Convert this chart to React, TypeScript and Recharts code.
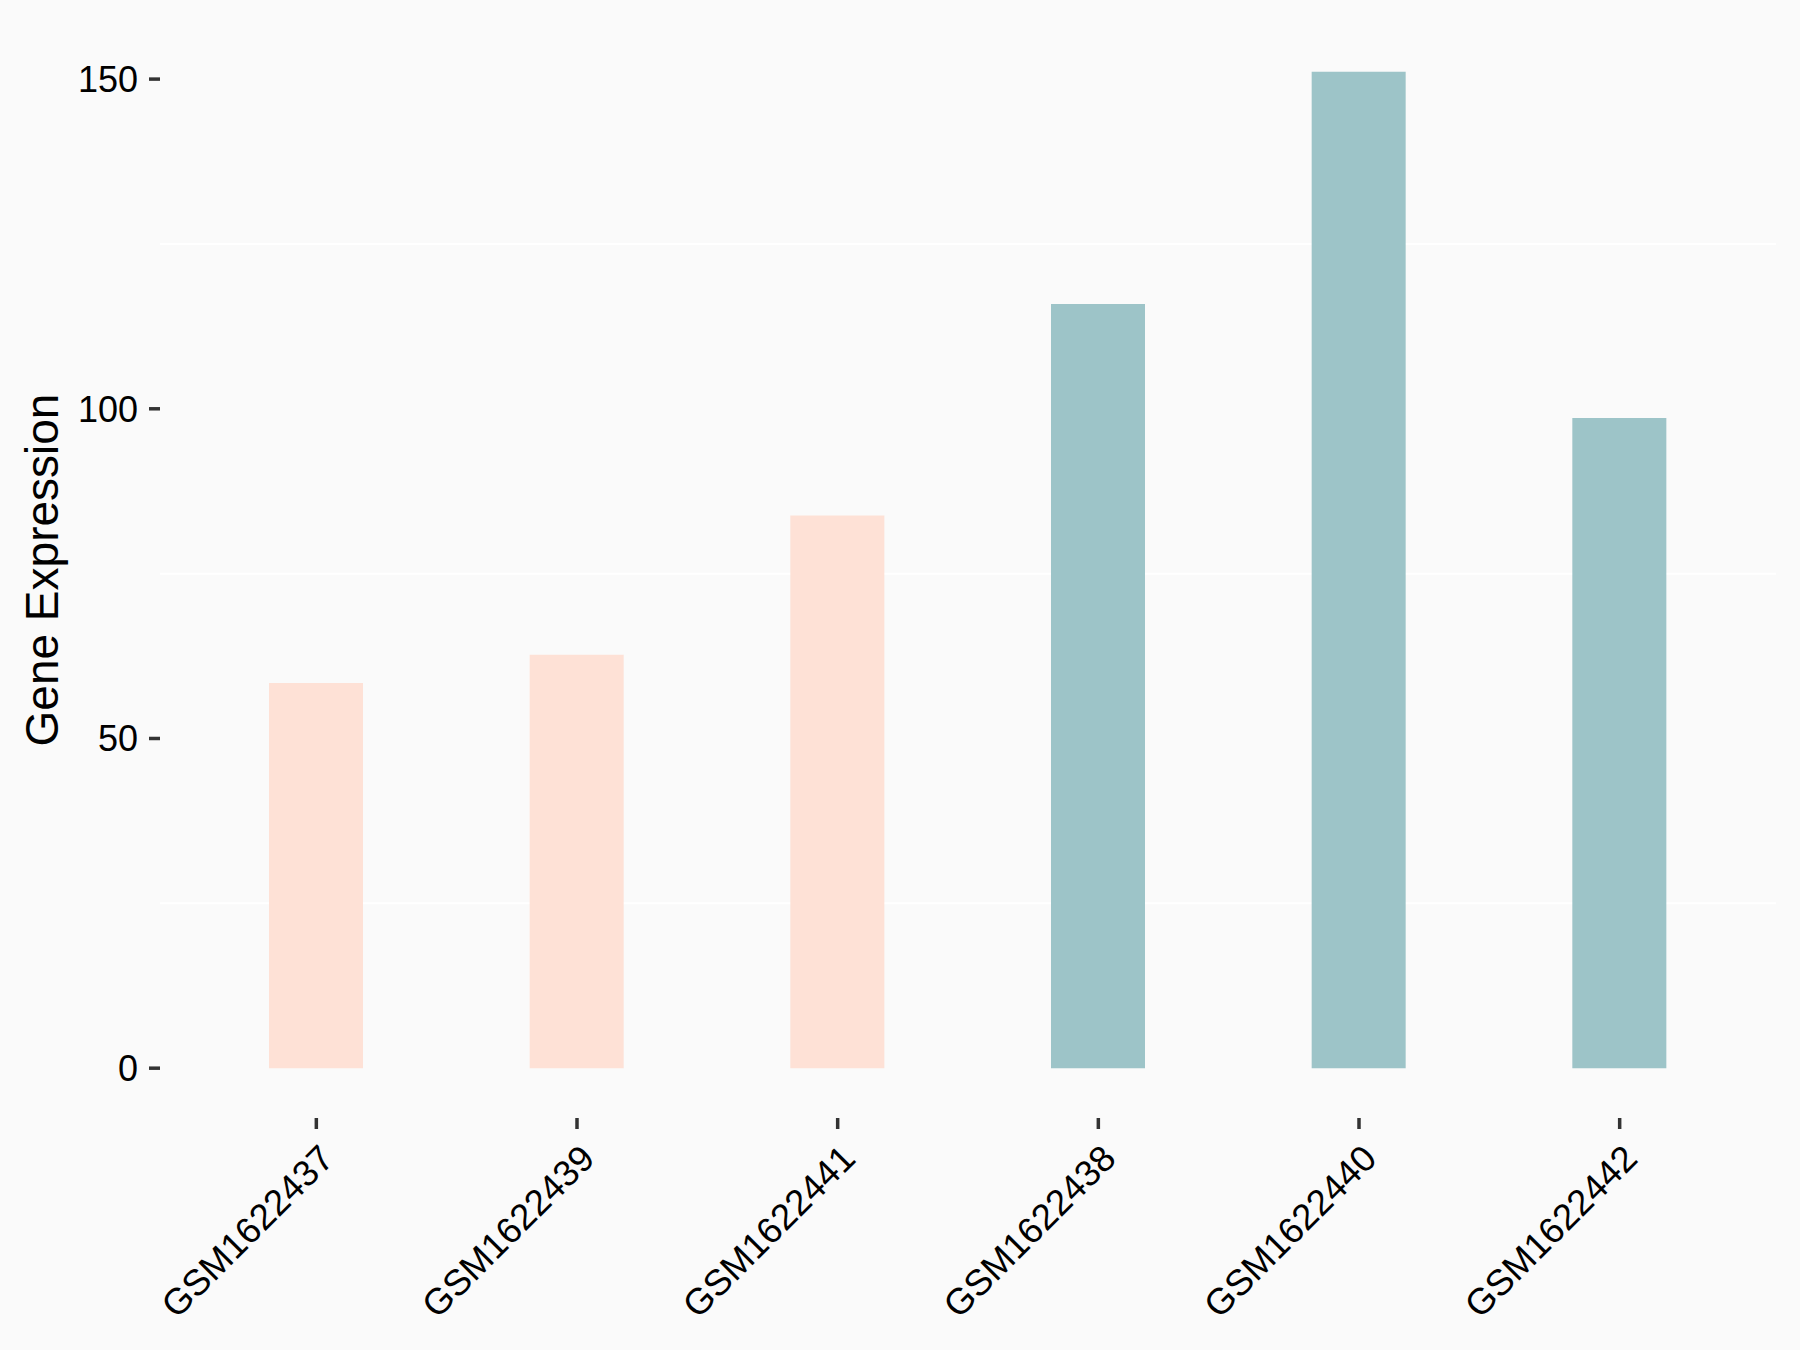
import { BarChart, Bar, Cell, XAxis, YAxis, CartesianGrid } from 'recharts'

const samples = ['GSM1622437', 'GSM1622439', 'GSM1622441', 'GSM1622438', 'GSM1622440', 'GSM1622442']
const expression = [58.4, 62.7, 83.8, 115.9, 151.1, 98.6]
const groups = ['A', 'A', 'A', 'B', 'B', 'B']
const yTicks = [0, 50, 100, 150]
const minorGrid = [25, 75, 125]

const groupColors: Record<string, string> = { A: '#FEE1D6', B: '#9DC4C8' }

const data = samples.map((s, i) => ({ sample: s, value: expression[i], group: groups[i] }))

const FONT = '"Liberation Sans", Arial, sans-serif'

function XTick({ x, y, payload }: any) {
  return (
    <g transform={`translate(${x + 1},${y})`}>
      <text
        x={0}
        y={0}
        dy="0.72em"
        textAnchor="end"
        transform="rotate(-45)"
        fontSize={36.5}
        fontFamily={FONT}
        fill="#000"
      >
        {payload.value}
      </text>
    </g>
  )
}

function YTitle({ viewBox }: any) {
  const cx = viewBox.x + 42
  const cy = viewBox.y + viewBox.height / 2
  return (
    <text
      x={cx}
      y={cy}
      transform={`rotate(-90, ${cx}, ${cy})`}
      textAnchor="middle"
      dominantBaseline="central"
      fontSize={46}
      fontFamily={FONT}
      fill="#000"
    >
      Gene Expression
    </text>
  )
}

export default function App() {
  return (
    <div style={{ position: 'absolute', left: 0, top: 0, width: 1800, height: 1350, background: '#FAFAFA' }}>
      <BarChart width={1800} height={1350} data={data} margin={{ top: 22, right: 24, left: 0, bottom: 0 }}>
        <CartesianGrid
          vertical={false}
          horizontalValues={minorGrid}
          stroke="#FFFFFF"
          strokeWidth={2}
        />
        <XAxis
          dataKey="sample"
          height={232}
          axisLine={false}
          tickSize={11}
          tickMargin={13}
          tickLine={{ stroke: '#333333', strokeWidth: 3.5 }}
          padding={{ left: 26, right: 26 }}
          tick={<XTick />}
          interval={0}
        />
        <YAxis
          type="number"
          width={160}
          domain={[-7.555, 158.66]}
          ticks={yTicks}
          axisLine={false}
          tickSize={11}
          tickMargin={11}
          tickLine={{ stroke: '#333333', strokeWidth: 3.5 }}
          tick={{ fontSize: 36, fontFamily: FONT, fill: '#000' }}
          label={<YTitle />}
        />
        <Bar dataKey="value" barSize={94} isAnimationActive={false}>
          {data.map((d) => (
            <Cell key={d.sample} fill={groupColors[d.group]} />
          ))}
        </Bar>
      </BarChart>
    </div>
  )
}
